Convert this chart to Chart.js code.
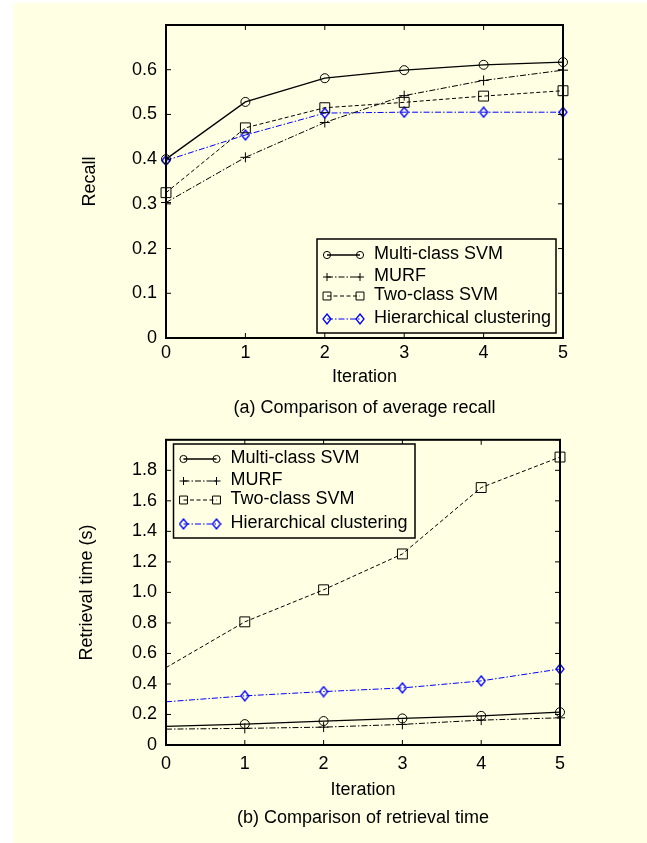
<!DOCTYPE html>
<html lang="en">
<head>
<meta charset="UTF-8">
<title>Comparison of recall and retrieval time</title>
<script src="https://cdn.jsdelivr.net/npm/chart.js@4.4.0/dist/chart.umd.min.js"></script>
<style>
  body { margin: 0; background: #fff; }
  .paper { position: absolute; left: 13px; top: 3px; width: 634px; height: 840px; background: #ffffe3; }
  canvas { position: absolute; left: 0; }
  #recallChart { top: 0; }
  #timeChart { top: 420px; }
</style>
</head>
<body>
<div class="paper"></div>
<canvas id="recallChart" width="647" height="420"></canvas>
<canvas id="timeChart" width="647" height="423"></canvas>
<script>
// ---- data ----
const iterations = ['0', '1', '2', '3', '4', '5'];
const seriesNames = ['Multi-class SVM', 'MURF', 'Two-class SVM', 'Hierarchical clustering'];

const recallMulti = [0.400, 0.528, 0.581, 0.599, 0.611, 0.617];
const recallMurf  = [0.303, 0.404, 0.482, 0.542, 0.576, 0.599];
const recallTwo   = [0.325, 0.470, 0.515, 0.527, 0.541, 0.553];
const recallHier  = [0.397, 0.454, 0.503, 0.505, 0.505, 0.505];

const timeMulti = [0.122, 0.137, 0.157, 0.174, 0.191, 0.215];
const timeMurf  = [0.104, 0.109, 0.117, 0.135, 0.163, 0.178];
const timeTwo   = [0.507, 0.807, 1.017, 1.252, 1.687, 1.887];
const timeHier  = [0.283, 0.322, 0.350, 0.374, 0.420, 0.498];

const recallTicks = ['0', '0.1', '0.2', '0.3', '0.4', '0.5', '0.6'];
const timeTicks = ['0', '0.2', '0.4', '0.6', '0.8', '1.0', '1.2', '1.4', '1.6', '1.8'];

const BG = '#ffffe3';
const FONT = '"Liberation Sans", Arial, sans-serif';
Chart.defaults.font.family = FONT;
Chart.defaults.font.size = 18;
Chart.defaults.color = '#000';

// matlab style diamond, a bit taller than wide
function makeDiamond(color) {
    const c = document.createElement('canvas');
    c.width = 10; c.height = 12;
    const g = c.getContext('2d');
    g.strokeStyle = color;
    g.lineWidth = 1.3;
    g.beginPath();
    g.moveTo(5, 1); g.lineTo(9, 6); g.lineTo(5, 11); g.lineTo(1, 6); g.closePath();
    g.stroke();
    return c;
}

const styles = [
    { color: '#000', width: 1.3, dash: [], point: 'circle', r: 4.5 },
    { color: '#000', width: 1, dash: [6, 2, 1.5, 2], point: 'cross', r: 5 },
    { color: '#000', width: 1, dash: [4, 2.5], point: 'rect', r: 7 },
    { color: '#0000ff', width: 1, dash: [6, 2, 1.5, 2], point: makeDiamond('#0000ff'), r: 5 }
];

function makeDatasets(seriesData, skipFirstMarker) {
    return seriesData.map((data, i) => {
        const s = styles[i];
        return {
            label: seriesNames[i],
            data: data,
            borderColor: s.color,
            borderWidth: s.width,
            borderDash: s.dash,
            pointStyle: s.point,
            pointRadius: skipFirstMarker ? data.map((v, j) => j === 0 ? 0 : s.r) : s.r,
            legendRadius: s.r * 0.8,
            pointBorderColor: s.color,
            pointBackgroundColor: 'rgba(0,0,0,0)',
            pointBorderWidth: 1,
            tension: 0
        };
    });
}

// box with inward tick marks on all four sides
const frame = {
    id: 'frame',
    afterDatasetsDraw(chart) {
        const { ctx, chartArea: { left, right, top, bottom }, scales: { x, y } } = chart;
        ctx.save();
        ctx.strokeStyle = '#000';
        ctx.lineWidth = 1;
        ctx.beginPath();
        x.ticks.forEach((t, i) => {
            const px = x.getPixelForTick(i);
            ctx.moveTo(px, bottom); ctx.lineTo(px, bottom - 5);
            ctx.moveTo(px, top); ctx.lineTo(px, top + 5);
        });
        y.ticks.forEach(t => {
            const py = y.getPixelForValue(t.value);
            ctx.moveTo(left, py); ctx.lineTo(left + 5, py);
            ctx.moveTo(right, py); ctx.lineTo(right - 5, py);
        });
        ctx.stroke();
        ctx.lineWidth = 2;
        ctx.strokeRect(left, top, right - left, bottom - top);
        ctx.restore();
    }
};

// legend box like the matlab one: sample line with a marker at each end
const boxLegend = {
    id: 'boxLegend',
    afterDraw(chart, args, opts) {
        const ctx = chart.ctx;
        ctx.save();
        ctx.fillStyle = BG;
        ctx.fillRect(opts.x, opts.y, opts.w, opts.h);
        ctx.strokeStyle = '#000';
        ctx.lineWidth = 1.5;
        ctx.strokeRect(opts.x, opts.y, opts.w, opts.h);
        chart.data.datasets.forEach((ds, i) => {
            const y = opts.y + opts.rows[i];
            const x1 = opts.x + 10, x2 = opts.x + 43;
            ctx.strokeStyle = ds.borderColor;
            ctx.lineWidth = ds.borderWidth;
            ctx.setLineDash(ds.borderDash);
            ctx.beginPath();
            ctx.moveTo(x1, y); ctx.lineTo(x2, y);
            ctx.stroke();
            ctx.setLineDash([]);
            ctx.lineWidth = 1;
            ctx.fillStyle = 'rgba(0,0,0,0)';
            [x1, x2].forEach(px => Chart.helpers.drawPoint(ctx, {
                pointStyle: ds.pointStyle, radius: ds.legendRadius, rotation: 0, borderWidth: 1
            }, px, y));
            ctx.fillStyle = '#000';
            ctx.font = '18px ' + FONT;
            ctx.textBaseline = 'middle';
            ctx.fillText(ds.label, opts.x + 57, y - 1);
        });
        ctx.restore();
    }
};

function makeChart(id, seriesData, cfg) {
    return new Chart(document.getElementById(id), {
        type: 'line',
        data: { labels: iterations, datasets: makeDatasets(seriesData, cfg.skipFirst) },
        options: {
            responsive: false,
            animation: false,
            events: [],
            layout: { padding: { left: 0, top: cfg.top, right: cfg.right, bottom: 0 } },
            plugins: {
                legend: { display: false },
                tooltip: { enabled: false },
                title: {
                    display: true, text: cfg.caption, position: 'bottom', fullSize: false,
                    font: { size: 18, weight: 'normal' }, color: '#000',
                    padding: { top: 0, bottom: cfg.capPad }
                },
                boxLegend: cfg.legend
            },
            scales: {
                x: {
                    type: 'category', offset: false,
                    grid: { display: false, drawTicks: false }, border: { display: false },
                    ticks: { padding: cfg.xPad, maxRotation: 0, autoSkip: false },
                    title: { display: true, text: 'Iteration', padding: { top: 0, bottom: cfg.xTitlePad } },
                    afterFit(s) { s.height = cfg.xHeight; }
                },
                y: {
                    min: 0, max: cfg.yMax,
                    grid: { display: false, drawTicks: false }, border: { display: false },
                    ticks: { stepSize: cfg.step, padding: 9, callback: (v, i) => cfg.yLabels[i] ?? '' },
                    title: { display: true, text: cfg.yTitle, padding: { top: cfg.yTitlePad, bottom: 0 } },
                    afterFit(s) { s.width = 166; }
                }
            }
        },
        plugins: [frame, boxLegend]
    });
}

makeChart('recallChart', [recallMulti, recallMurf, recallTwo, recallHier], {
    top: 25, right: 84, capPad: 1.2, xHeight: 59.2, xPad: 4, xTitlePad: 9.4,
    yMax: 0.7, step: 0.1, yLabels: recallTicks, yTitle: 'Recall', yTitlePad: 79,
    caption: '(a) Comparison of average recall', skipFirst: false,
    legend: { x: 317, y: 239, w: 239, h: 94, rows: [16, 38, 57, 80] }
});

makeChart('timeChart', [timeMulti, timeMurf, timeTwo, timeHier], {
    top: 17, right: 87, capPad: 14.2, xHeight: 62.2, xPad: 8, xTitlePad: 6.4,
    yMax: 2.0, step: 0.2, yLabels: timeTicks, yTitle: 'Retrieval time (s)', yTitlePad: 76,
    caption: '(b) Comparison of retrieval time', skipFirst: true,
    legend: { x: 173.5, y: 24, w: 241.5, h: 94, rows: [15, 37, 56, 80] }
});
</script>
</body>
</html>
